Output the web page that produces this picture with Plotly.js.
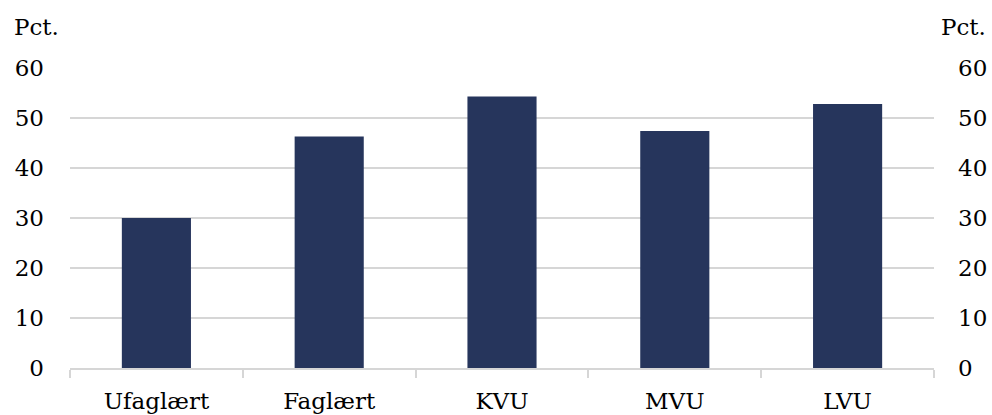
<!DOCTYPE html>
<html>
<head>
<meta charset="utf-8">
<script src="https://cdn.plot.ly/plotly-3.0.1.min.js"></script>
<style>html,body{margin:0;padding:0;background:#fff}#chart{width:992px;height:415px}</style>
</head>
<body>
<div id="chart"></div>
<script>
const categories = ["Ufaglært", "Faglært", "KVU", "MVU", "LVU"];
const values = [30.0, 46.3, 54.3, 47.4, 52.8];
const yTicks = [0, 10, 20, 30, 40, 50, 60];
const unitLabel = "Pct.";

const FONT = "DejaVu Serif, Georgia, serif";
const GRID = "#d6d6d6";
const FS = 23;

const data = [
  {type: "bar", x: categories, y: values, marker: {color: "#26355c"}, hoverinfo: "skip", showlegend: false},
  {type: "scatter", mode: "none", x: categories, y: values, yaxis: "y2", hoverinfo: "skip", showlegend: false}
];

const layout = {
  width: 992, height: 415,
  margin: {l: 70, r: 58, t: 68, b: 47},
  paper_bgcolor: "#fff", plot_bgcolor: "#fff",
  font: {family: FONT, size: FS, color: "#000"},
  bargap: 0.6,
  xaxis: {
    type: "category", showgrid: false, showline: true, linecolor: GRID, linewidth: 2,
    ticks: "outside", tickson: "boundaries", ticklen: 8, tickwidth: 2, tickcolor: GRID,
    ticklabelstandoff: 11,
    tickfont: {family: FONT, size: FS}, zeroline: false
  },
  yaxis: {
    range: [0, 60], tickvals: yTicks, ticktext: yTicks.map(String),
    showgrid: true, gridcolor: GRID, gridwidth: 2, zeroline: false, showline: false,
    ticks: "", ticklabelstandoff: 25, tickfont: {family: FONT, size: FS}, fixedrange: true
  },
  yaxis2: {
    range: [0, 60], tickvals: yTicks, ticktext: yTicks.map(String),
    overlaying: "y", side: "right", showgrid: false, zeroline: false, showline: false,
    ticks: "", ticklabelstandoff: 23, tickfont: {family: FONT, size: FS}
  },
  annotations: [
    {text: unitLabel, xref: "paper", yref: "paper", x: -0.067, y: 1.137, xanchor: "left", yanchor: "middle", showarrow: false, font: {family: FONT, size: FS}},
    {text: unitLabel, xref: "paper", yref: "paper", x: 1.063, y: 1.137, xanchor: "right", yanchor: "middle", showarrow: false, font: {family: FONT, size: FS}}
  ]
};

Plotly.newPlot("chart", data, layout, {displayModeBar: false, staticPlot: true});
</script>
</body>
</html>
